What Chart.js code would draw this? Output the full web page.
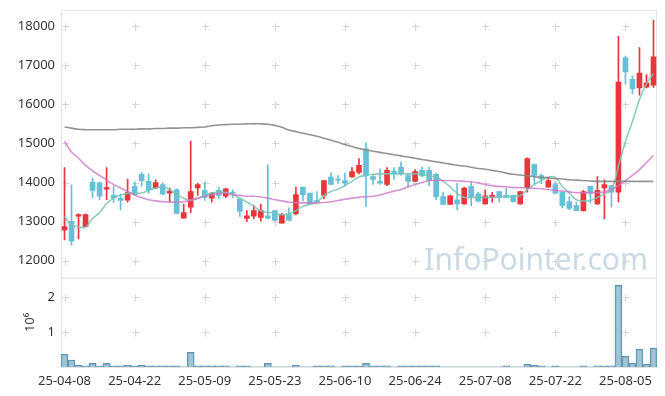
<!DOCTYPE html>
<html>
<head>
<meta charset="utf-8">
<script src="https://cdn.jsdelivr.net/npm/chart.js@4.4.0/dist/chart.umd.min.js"></script>
<style>
html, body { margin: 0; padding: 0; background: #fff; }
</style>
</head>
<body>
<canvas id="stockchart" width="665" height="396"></canvas>
<script>
// trading days (yy-mm-dd)
var dates = [
  "25-04-08","25-04-09","25-04-10","25-04-11","25-04-14","25-04-15","25-04-16","25-04-17","25-04-18","25-04-21",
  "25-04-22","25-04-23","25-04-24","25-04-25","25-04-28","25-04-29","25-04-30","25-05-02","25-05-07","25-05-08",
  "25-05-09","25-05-12","25-05-13","25-05-14","25-05-15","25-05-16","25-05-19","25-05-20","25-05-21","25-05-22",
  "25-05-23","25-05-26","25-05-27","25-05-28","25-05-29","25-05-30","25-06-02","25-06-04","25-06-05","25-06-09",
  "25-06-10","25-06-11","25-06-12","25-06-13","25-06-16","25-06-17","25-06-18","25-06-19","25-06-20","25-06-23",
  "25-06-24","25-06-25","25-06-26","25-06-27","25-06-30","25-07-01","25-07-02","25-07-03","25-07-04","25-07-07",
  "25-07-08","25-07-09","25-07-10","25-07-11","25-07-14","25-07-15","25-07-16","25-07-17","25-07-18","25-07-21",
  "25-07-22","25-07-23","25-07-24","25-07-25","25-07-28","25-07-29","25-07-30","25-07-31","25-08-01","25-08-04",
  "25-08-05","25-08-06","25-08-07","25-08-08","25-08-11"
];

var openP = [
  12780,13010,13140,12870,14010,13990,13830,13670,13600,13550,
  13900,14210,14030,13860,13950,13730,13820,13090,13370,13860,
  13800,13600,13800,13650,13750,13580,13080,13140,13110,13150,
  13280,12960,13180,13200,13880,13730,13540,13670,14140,14080,
  14050,14140,14260,14860,14150,14030,13950,14290,14390,14180,
  14030,14310,14310,14210,13640,13440,13560,13450,13900,13710,
  13450,13620,13770,13670,13670,13450,13860,14460,14180,13880,
  13950,13750,13510,13410,13280,13900,13450,13860,13920,13750,
  17190,16640,16420,16440,16490
];
var highP = [
  14380,13940,13200,13200,14110,14010,14380,13900,13710,14090,
  14010,14260,14220,14070,13990,13860,13840,13440,15060,13980,
  14010,13750,13880,13860,13810,13580,13280,13410,13450,14450,
  13280,13210,13350,13880,13880,13730,13770,14050,14250,14180,
  14250,14380,14610,15020,14210,14350,14380,14380,14530,14220,
  14330,14390,14390,14240,13750,13680,13980,13880,14010,13750,
  13810,13750,13770,13860,13670,13780,14630,14480,14220,14120,
  14010,13760,13640,13500,13800,13900,14150,14070,13920,17740,
  17230,16730,17450,16760,18150
];
var lowP = [
  12530,12400,12560,12870,13610,13560,13560,13490,13300,13500,
  13670,13900,13730,13840,13690,13500,13210,13090,13230,13670,
  13540,13500,13580,13610,13620,13130,13000,13070,13010,13070,
  13010,12960,13030,13170,13520,13450,13480,13580,13950,13970,
  13920,14130,14220,13390,13950,13950,13920,14080,14180,13880,
  14030,14150,13920,13560,13440,13440,13300,13440,13410,13500,
  13440,13500,13500,13620,13500,13440,13750,13970,13970,13880,
  13710,13350,13300,13280,13270,13470,13440,13070,13370,13500,
  16510,16270,16230,16420,16430
];
var closeP = [
  12870,12500,13180,13180,13800,13650,13870,13600,13540,13740,
  13690,14050,13810,14000,13710,13780,13210,13230,13770,13950,
  13620,13730,13670,13840,13730,13260,13150,13280,13280,13090,
  13030,13180,13030,13690,13690,13450,13500,14050,13950,14060,
  13990,14280,14440,14180,14080,13980,14310,14220,14220,14030,
  14280,14170,14050,13640,13440,13660,13450,13860,13640,13520,
  13660,13670,13620,13620,13510,13770,14610,14180,14090,14050,
  13730,13410,13340,13280,13770,13730,13800,13950,13750,16570,
  16830,16390,16800,16550,17210
];

// moving averages as drawn on the chart
var ma5 = [
  13130,12920,12870,12860,13080,13230,13460,13600,13680,13720,
  13730,13730,13800,13860,13890,13820,13690,13600,13540,13600,
  13670,13730,13750,13750,13690,13600,13500,13390,13270,13240,
  13210,13180,13200,13280,13390,13440,13500,13670,13770,13830,
  13920,14030,14140,14180,14210,14220,14220,14220,14220,14220,
  14220,14210,14170,14140,14030,13890,13720,13620,13620,13620,
  13620,13620,13630,13640,13650,13670,13820,13950,14050,14140,
  14130,13900,13730,13560,13530,13540,13620,13710,13820,14420,
  15050,15560,16120,16530,16780
];
var ma20 = [
  15050,14780,14620,14440,14300,14180,14060,13950,13860,13770,
  13680,13610,13560,13530,13510,13500,13500,13510,13550,13600,
  13650,13680,13710,13730,13690,13670,13650,13650,13630,13600,
  13560,13530,13500,13490,13480,13480,13480,13490,13510,13540,
  13570,13600,13620,13640,13650,13680,13730,13780,13820,13890,
  13950,14000,14050,14050,14050,14050,14040,14030,14020,13990,
  13950,13920,13900,13890,13870,13870,13860,13850,13840,13820,
  13800,13780,13760,13740,13740,13740,13740,13760,13820,13920,
  14050,14180,14330,14510,14690
];
var ma60 = [
  15420,15390,15360,15350,15350,15350,15350,15350,15360,15360,
  15360,15370,15370,15380,15380,15390,15390,15400,15400,15410,
  15420,15450,15470,15480,15490,15490,15500,15500,15500,15490,
  15460,15410,15340,15300,15260,15220,15180,15130,15080,15030,
  14970,14920,14870,14830,14800,14770,14740,14710,14680,14650,
  14620,14590,14560,14530,14500,14470,14440,14420,14390,14360,
  14340,14310,14280,14240,14210,14190,14170,14150,14130,14120,
  14100,14090,14070,14060,14050,14040,14030,14030,14030,14030,
  14030,14030,14030,14030,14030
];

var volume = [
  365000,200000,58000,30000,105000,30000,105000,30000,30000,55000,
  30000,50000,30000,30000,30000,30000,30000,4000,420000,30000,
  30000,30000,30000,30000,4000,30000,30000,4000,4000,105000,
  4000,4000,4000,55000,4000,4000,30000,30000,30000,4000,
  30000,30000,30000,105000,30000,30000,30000,4000,30000,30000,
  30000,30000,30000,30000,4000,4000,4000,4000,4000,4000,
  4000,4000,4000,30000,4000,4000,75000,50000,30000,4000,
  30000,4000,4000,4000,30000,4000,30000,30000,30000,2330000,
  310000,110000,510000,80000,540000
];

var priceTicks = [12000, 13000, 14000, 15000, 16000, 17000, 18000];
var volTicks = [1000000, 2000000];

var upColor = '#e8363c';
var downColor = '#68bfd8';
var candleColors = [];
for (var i = 0; i < dates.length; i++) {
  candleColors.push(closeP[i] >= openP[i] ? upColor : downColor);
}
var wicks = dates.map(function (d, i) { return [lowP[i], highP[i]]; });
var bodies = dates.map(function (d, i) { return [openP[i], closeP[i]]; });

var tickFont = { family: "'Noto Sans', sans-serif", size: 13 };

// crosses at grid points, frame and watermark
var decor = {
  id: 'decor',
  beforeDatasetsDraw: function (chart) {
    var ctx = chart.ctx, area = chart.chartArea;
    var x = chart.scales.x, y = chart.scales.y, y2 = chart.scales.y2;
    ctx.save();
    ctx.strokeStyle = '#e3e3e3';
    ctx.lineWidth = 1;
    [y, y2].forEach(function (s) {
      ctx.strokeRect(area.left + 0.5, s.top + 0.5, area.right - area.left - 1, s.bottom - s.top);
    });
    ctx.strokeStyle = '#d4d4d4';
    var pts = [];
    for (var i = 0; i < dates.length; i += 10) {
      var px = Math.round(x.getPixelForValue(i)) + 0.5;
      priceTicks.forEach(function (v) { pts.push([px, Math.round(y.getPixelForValue(v)) + 0.5]); });
      volTicks.forEach(function (v) { pts.push([px, Math.round(y2.getPixelForValue(v)) + 0.5]); });
    }
    ctx.beginPath();
    pts.forEach(function (p) {
      ctx.moveTo(p[0] - 3, p[1]); ctx.lineTo(p[0] + 4, p[1]);
      ctx.moveTo(p[0], p[1] - 3); ctx.lineTo(p[0], p[1] + 4);
    });
    ctx.stroke();
    ctx.fillStyle = '#c9dae5';
    ctx.font = "30px 'Noto Sans', sans-serif";
    ctx.textAlign = 'right';
    ctx.textBaseline = 'alphabetic';
    ctx.fillText('InfoPointer.com', area.right - 9, y.bottom - 8);
    ctx.restore();
  }
};

var ctx = document.getElementById('stockchart');
var stockchart = new Chart(ctx, {
  data: {
    labels: dates,
    datasets: [
      { type: 'line', data: ma60, yAxisID: 'y', borderColor: 'rgba(135,135,135,0.9)', borderWidth: 1.6,
        pointRadius: 0, tension: 0.4, order: 0 },
      { type: 'line', data: ma20, yAxisID: 'y', borderColor: 'rgba(204,120,196,0.8)', borderWidth: 1.6,
        pointRadius: 0, tension: 0.4, order: 0 },
      { type: 'line', data: ma5, yAxisID: 'y', borderColor: 'rgba(120,196,180,0.85)', borderWidth: 1.6,
        pointRadius: 0, tension: 0.4, order: 0 },
      { type: 'bar', data: wicks, yAxisID: 'y', backgroundColor: candleColors, barThickness: 1,
        grouped: false, order: 2 },
      { type: 'bar', data: bodies, yAxisID: 'y', backgroundColor: candleColors, barThickness: 5,
        minBarLength: 1, grouped: false, order: 1 },
      { type: 'bar', data: volume, yAxisID: 'y2', backgroundColor: 'rgba(130,178,200,0.75)',
        borderColor: '#5f93ae', borderWidth: 1, barPercentage: 1, categoryPercentage: 1,
        grouped: false, order: 3 }
    ]
  },
  options: {
    responsive: false,
    animation: false,
    layout: { padding: { top: 10, right: 8, left: 0, bottom: 0 } },
    plugins: { legend: { display: false }, tooltip: { enabled: false } },
    scales: {
      x: {
        type: 'category',
        offset: true,
        grid: { display: false, drawTicks: false },
        border: { display: false },
        ticks: {
          autoSkip: false, maxRotation: 0, minRotation: 0, padding: 6,
          color: '#333', font: tickFont,
          callback: function (v, i) { return i % 10 === 0 ? dates[i] : ''; }
        },
        afterFit: function (s) { s.height = 29; }
      },
      y2: {
        type: 'linear', position: 'left', stack: 'panels', stackWeight: 1,
        min: 0, max: 2550000,
        grid: { display: false, drawTicks: false },
        border: { display: true, color: '#bdbdbd' },
        title: { display: true, text: '10⁶', color: '#333', font: tickFont, padding: { top: 22, bottom: 0 } },
        ticks: {
          padding: 6, color: '#333', font: tickFont,
          callback: function (v) { return String(v / 1000000); }
        },
        afterBuildTicks: function (s) { s.ticks = volTicks.map(function (v) { return { value: v }; }); },
        afterFit: function (s) { s.width = 61; s.paddingTop = 0; s.paddingBottom = 0; }
      },
      y: {
        type: 'linear', position: 'left', stack: 'panels', stackWeight: 3,
        min: 11565, max: 18410,
        grid: { display: false, drawTicks: false },
        border: { display: true, color: '#bdbdbd' },
        ticks: {
          padding: 6, color: '#333', font: tickFont,
          callback: function (v) { return String(v); }
        },
        afterBuildTicks: function (s) { s.ticks = priceTicks.map(function (v) { return { value: v }; }); },
        afterFit: function (s) { s.width = 61; s.paddingTop = 0; s.paddingBottom = 0; }
      }
    }
  },
  plugins: [decor]
});
</script>
</body>
</html>
